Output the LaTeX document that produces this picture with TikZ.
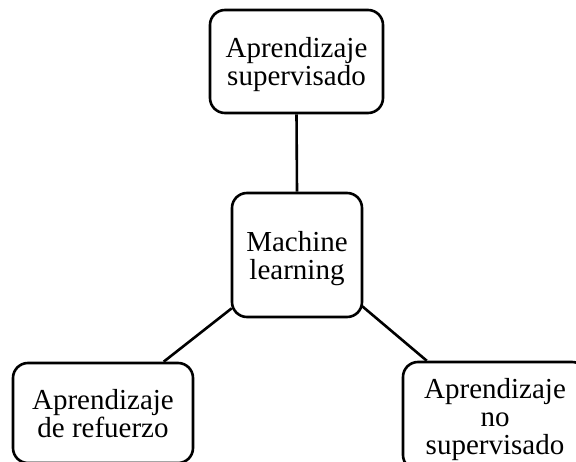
\documentclass[tikz,border=0pt]{standalone}
\usepackage{fontspec}
\setmainfont{Liberation Serif}
\usetikzlibrary{calc}
\begin{document}
\begin{tikzpicture}[x=1bp,y=-1bp,
  box/.style={draw=black, line width=2.6bp, rounded corners=15bp, align=center,
    inner sep=0pt, text depth=0pt, font=\fontsize{29bp}{28bp}\selectfont},
  link/.style={draw=black, line width=2.6bp}]
\useasboundingbox (0,0) rectangle (576,462);
\clip (0,0) rectangle (576,462);
\node[box, minimum width=173bp, minimum height=103bp] (sup) at (296.5,61.5) {Aprendizaje\\supervisado};
\node[box, minimum width=130bp, minimum height=124bp] (ml) at (297,255) {Machine\\learning};
\node[box, minimum width=180bp, minimum height=100bp] (ref) at (103,413) {Aprendizaje\\de refuerzo};
\node[box, minimum width=184bp, minimum height=108bp] (nos) at (495,416) {Aprendizaje\\no\\supervisado};
\draw[link] (sup.south) -- (ml.north);
\draw[link] ($(ml.south west)+(1,-10)$) -- ($(ref.north west)+(152,0)$);
\draw[link] ($(ml.south east)+(-1,-12)$) -- ($(nos.north west)+(25,0)$);
\end{tikzpicture}
\end{document}
